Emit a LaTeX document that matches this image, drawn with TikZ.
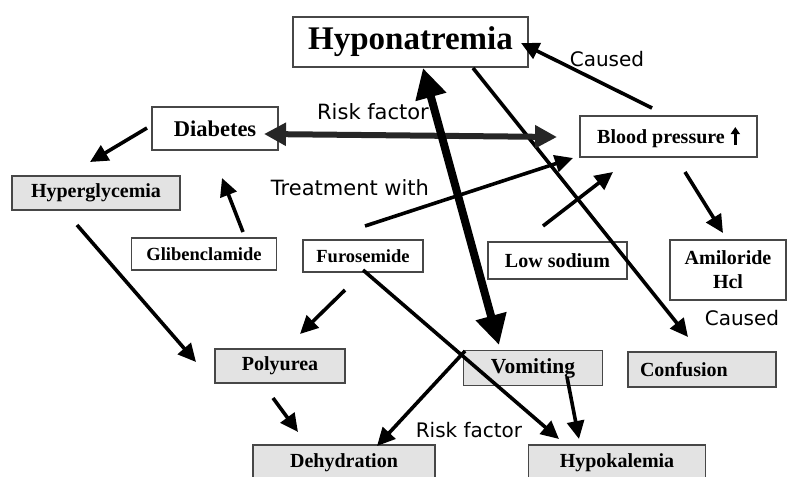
\documentclass[tikz,border=0pt]{standalone}
\usepackage{fontspec}
\setmainfont{Liberation Serif}
\newfontfamily\handfont{DejaVu Sans}
\usetikzlibrary{arrows.meta}

\newcommand{\uparrowmark}{\tikz[baseline=0pt,x=1pt,y=1pt]
  \draw[line width=2.8pt,-{Triangle[length=7pt,width=9pt]}] (0,-2) -- (0,16);}

\tikzset{
  box/.style={draw=black!72, line width=1.5pt, fill=white, inner sep=0pt,
              font=\fontsize{20}{22}\selectfont\bfseries},
  shaded/.style={box, fill=black!11},
  arr/.style={line width=3.6pt, -{Triangle[length=18pt,width=17pt]}},
  note/.style={font=\handfont\fontsize{21}{24}\selectfont, inner sep=0pt},
}

\begin{document}
\begin{tikzpicture}[x=1pt,y=-1pt]
\useasboundingbox (0,0) rectangle (788,477);

% boxes
\node[box, minimum width=235, minimum height=50,
      font=\fontsize{33}{36}\selectfont\bfseries] (hypo) at (410.5,42) {Hyponatremia};
\node[box, minimum width=126, minimum height=43,
      font=\fontsize{22.5}{24}\selectfont\bfseries] (diab) at (215,128.5) {Diabetes};
\node[shaded, minimum width=168, minimum height=34] (hyper) at (96,193) {Hyperglycemia};
\node[box, minimum width=145, minimum height=32,
      font=\fontsize{18.5}{20}\selectfont\bfseries] (glib) at (204,254) {Glibenclamide};
\node[box, minimum width=120, minimum height=32,
      font=\fontsize{18.5}{20}\selectfont\bfseries] (furo) at (363,256) {Furosemide};
\node[box, minimum width=139, minimum height=37] (lows) at (557.5,260.5) {Low sodium};
\node[box, minimum width=177, minimum height=41] (bp) at (668.5,136.5)
      {Blood pressure\hspace{6pt}\uparrowmark};
\node[box, minimum width=116, minimum height=60, align=center,
      font=\fontsize{20}{24}\selectfont\bfseries] (amil) at (728,270)
      {Amiloride\\Hcl};
\node[shaded, minimum width=130, minimum height=34] (poly) at (280,366) {Polyurea};
\node[shaded, minimum width=139, minimum height=35,
      font=\fontsize{21.5}{24}\selectfont\bfseries] (vomi) at (533,368) {Vomiting};
\node[shaded, text width=124, inner xsep=12pt, minimum height=35, align=left]
      (conf) at (702,369.5) {Confusion};
\node[shaded, minimum width=182, minimum height=36] (dehy) at (344,463) {Dehydration};
\node[shaded, minimum width=177, minimum height=36] (hypok) at (617,463) {Hypokalemia};

% labels
\node[note, font=\handfont\fontsize{20}{22}\selectfont] (caused1) at (607,59) {Caused};
\node[note] (risk1) at (373,112) {Risk factor};
\node[note] (treat) at (350,188) {Treatment with};
\node[note, font=\handfont\fontsize{20}{22}\selectfont] (caused2) at (742,318) {Caused};
\node[note, font=\handfont\fontsize{20}{22}\selectfont] (risk2) at (469,430) {Risk factor};

% connector end points
\coordinate (diabOut) at (147,128);
\coordinate (hyperIn) at (90,162);
\coordinate (glibOut) at (243,232);
\coordinate (diabIn) at (222,178);
\coordinate (hyperOut) at (77,225);
\coordinate (polyIn) at (196,362);
\coordinate (furoOutA) at (345,290);
\coordinate (polyInB) at (300,334);
\coordinate (polyOut) at (273,398);
\coordinate (dehyIn) at (298,432);
\coordinate (vomiOut) at (465,351);
\coordinate (dehyInB) at (377,446);
\coordinate (furoOutB) at (363,270);
\coordinate (hypokIn) at (559,439);
\coordinate (vomiOutB) at (567,377);
\coordinate (hypokInB) at (579,439);
\coordinate (hypoBot) at (423,68);
\coordinate (vomiTop) at (499,345);
\coordinate (diabRight) at (264,134);
\coordinate (bpLeft) at (557,137);
\coordinate (hypoOut) at (473,68);
\coordinate (confIn) at (688,337);
\coordinate (bpOut) at (652,108);
\coordinate (hypoRight) at (521,43);
\coordinate (furoOutC) at (365,226);
\coordinate (bpInA) at (573,158);
\coordinate (lowsOut) at (543,226);
\coordinate (bpInB) at (613,172);
\coordinate (bpOutB) at (685,172);
\coordinate (amilIn) at (723,233);

% connectors
\draw[arr] (diabOut) -- (hyperIn);
\draw[arr] (glibOut) -- (diabIn);
\draw[arr] (hyperOut) -- (polyIn);
\draw[arr] (furoOutA) -- (polyInB);
\draw[arr] (polyOut) -- (dehyIn);
\draw[arr] (vomiOut) -- (dehyInB);
\draw[arr] (furoOutB) -- (hypokIn);
\draw[arr] (vomiOutB) -- (hypokInB);
\draw[arr] (hypoOut) -- (confIn);
\draw[arr] (bpOut) -- (hypoRight);
\draw[arr] (furoOutC) -- (bpInA);
\draw[arr] (lowsOut) -- (bpInB);
\draw[arr] (bpOutB) -- (amilIn);
\draw[line width=6pt, draw=black!85,
      {Triangle[length=22pt,width=22pt]}-{Triangle[length=22pt,width=22pt]}]
      (diabRight) -- (bpLeft);
\draw[line width=8pt,
      {Triangle[length=30pt,width=30pt]}-{Triangle[length=30pt,width=30pt]}]
      (hypoBot) -- (vomiTop);
\end{tikzpicture}
\end{document}
